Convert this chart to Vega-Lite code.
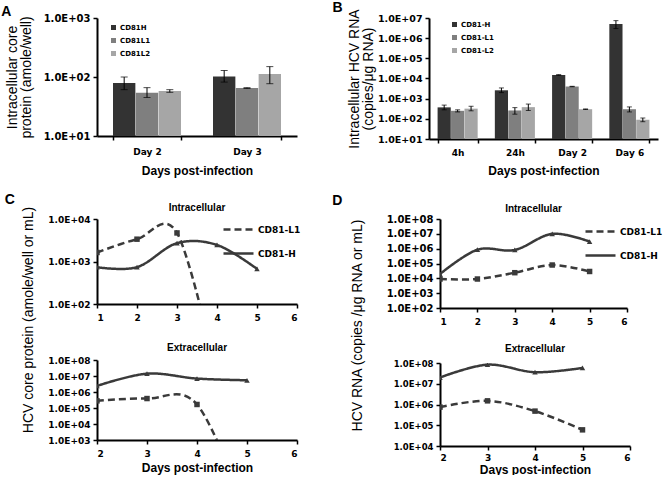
{
"$schema":"https://vega.github.io/schema/vega-lite/v6.json",
"background":"white",
"padding":{"left":1,"top":0,"right":0,"bottom":0},
"config":{
 "view":{"stroke":null},
 "font":"Liberation Sans",
 "axis":{"domainColor":"#000","domainWidth":2,"tickColor":"#000","tickWidth":1.5,"tickSize":4,"labelFont":"DejaVu Sans","labelFontWeight":"bold","labelColor":"#000","labelFontSize":9,"titleFont":"Liberation Sans","titleColor":"#000","grid":false,"labelPadding":3},
 "title":{"font":"Liberation Sans","fontWeight":"bold","color":"#000"},
 "legend":{"labelFont":"DejaVu Sans","labelFontWeight":"bold","labelColor":"#000"}
},
"datasets":{
 "barsA":[
  {"day":"Day 2","series":"CD81H","value":79,"lo":61,"hi":100},
  {"day":"Day 2","series":"CD81L1","value":54,"lo":45,"hi":66},
  {"day":"Day 2","series":"CD81L2","value":58,"lo":55,"hi":61},
  {"day":"Day 3","series":"CD81H","value":102,"lo":82,"hi":129},
  {"day":"Day 3","series":"CD81L1","value":65,"lo":64,"hi":66},
  {"day":"Day 3","series":"CD81L2","value":112,"lo":77,"hi":150}
 ],
 "barsB":[
  {"day":"4h","series":"CD81-H","value":370,"lo":280,"hi":480},
  {"day":"4h","series":"CD81-L1","value":250,"lo":220,"hi":280},
  {"day":"4h","series":"CD81-L2","value":320,"lo":250,"hi":420},
  {"day":"24h","series":"CD81-H","value":2600,"lo":2000,"hi":3400},
  {"day":"24h","series":"CD81-L1","value":260,"lo":170,"hi":360},
  {"day":"24h","series":"CD81-L2","value":380,"lo":260,"hi":540},
  {"day":"Day 2","series":"CD81-H","value":15000,"lo":14500,"hi":15500},
  {"day":"Day 2","series":"CD81-L1","value":4000,"lo":3900,"hi":4100},
  {"day":"Day 2","series":"CD81-L2","value":300,"lo":290,"hi":310},
  {"day":"Day 6","series":"CD81-H","value":5000000,"lo":3000000,"hi":7400000},
  {"day":"Day 6","series":"CD81-L1","value":300,"lo":220,"hi":390},
  {"day":"Day 6","series":"CD81-L2","value":90,"lo":72,"hi":110}
 ],
 "cTop":[
  {"day":1,"series":"CD81-L1","value":1630},
  {"day":2,"series":"CD81-L1","value":3350},
  {"day":3,"series":"CD81-L1","value":4700},
  {"day":4,"series":"CD81-L1","value":2},
  {"day":1,"series":"CD81-H","value":735},
  {"day":2,"series":"CD81-H","value":735},
  {"day":3,"series":"CD81-H","value":2700},
  {"day":4,"series":"CD81-H","value":2450},
  {"day":5,"series":"CD81-H","value":670}
 ],
 "cBot":[
  {"day":2,"series":"CD81-L1","value":280000},
  {"day":3,"series":"CD81-L1","value":390000},
  {"day":4,"series":"CD81-L1","value":166000},
  {"day":5,"series":"CD81-L1","value":0.025},
  {"day":2,"series":"CD81-H","value":2400000},
  {"day":3,"series":"CD81-H","value":14000000},
  {"day":4,"series":"CD81-H","value":6900000},
  {"day":5,"series":"CD81-H","value":5400000}
 ],
 "dTop":[
  {"day":1,"series":"CD81-L1","value":9000},
  {"day":2,"series":"CD81-L1","value":9000},
  {"day":3,"series":"CD81-L1","value":24000},
  {"day":4,"series":"CD81-L1","value":79000},
  {"day":5,"series":"CD81-L1","value":29000},
  {"day":1,"series":"CD81-H","value":19500},
  {"day":2,"series":"CD81-H","value":850000},
  {"day":3,"series":"CD81-H","value":820000},
  {"day":4,"series":"CD81-H","value":10000000},
  {"day":5,"series":"CD81-H","value":3000000}
 ],
 "dBot":[
  {"day":2,"series":"CD81-L1","value":750000},
  {"day":3,"series":"CD81-L1","value":1500000},
  {"day":4,"series":"CD81-L1","value":480000},
  {"day":5,"series":"CD81-L1","value":60000},
  {"day":2,"series":"CD81-H","value":20000000},
  {"day":3,"series":"CD81-H","value":83000000},
  {"day":4,"series":"CD81-H","value":36000000},
  {"day":5,"series":"CD81-H","value":58000000}
 ]
},
"spacing":17,
"resolve":{"scale":{"color":"independent","strokeDash":"independent","shape":"independent","xOffset":"independent"},"legend":{"color":"independent","strokeDash":"independent","shape":"independent"}},
"vconcat":[
 {"spacing":35,
  "resolve":{"scale":{"color":"independent","strokeDash":"independent","shape":"independent","xOffset":"independent"},"legend":{"color":"independent","strokeDash":"independent","shape":"independent"}},
  "hconcat":[
  {
   "title":{"text":"A","anchor":"start","frame":"bounds","fontSize":14,"offset":-6,"dx":-4},
   "width":200,"height":118,
   "data":{"name":"barsA"},
   "encoding":{
    "x":{"field":"day","type":"nominal","sort":["Day 2","Day 3"],"scale":{"paddingInner":0.32,"paddingOuter":0.16},"axis":{"title":"Days post-infection","labelAngle":0,"tickBand":"extent","labelFontSize":9,"labelPadding":7,"titleFontSize":12,"titleFontWeight":"bold","titlePadding":9}},
    "xOffset":{"field":"series","type":"nominal","sort":["CD81H","CD81L1","CD81L2"],"scale":{"paddingInner":0.02,"paddingOuter":0}}
   },
   "layer":[
    {"mark":{"type":"bar"},"encoding":{
      "y":{"field":"value","type":"quantitative","scale":{"type":"log","domain":[10,1000]},"axis":{"values":[10,100,1000],"labelExpr":"'1.0E+' + (round(log(datum.value)/LN10) < 10 ? '0' : '') + round(log(datum.value)/LN10)","labelFontSize":10,"title":["Intracellular core","protein (amole/well)"],"titleFontSize":14,"titleFontWeight":"normal","titlePadding":10,"titleLineHeight":14}},
      "y2":{"datum":10},
      "color":{"field":"series","type":"nominal","scale":{"domain":["CD81H","CD81L1","CD81L2"],"range":["#333333","#7f7f7f","#a6a6a6"]},"legend":{"orient":"none","legendX":13,"legendY":6,"title":null,"symbolType":"square","symbolSize":25,"symbolStrokeWidth":0,"labelFontSize":7,"labelOffset":3,"rowPadding":5,"padding":0}}}},
    {"mark":{"type":"rule","color":"#000","strokeWidth":1},"encoding":{"y":{"field":"lo","type":"quantitative","title":["Intracellular core","protein (amole/well)"]},"y2":{"field":"hi"}}},
    {"mark":{"type":"tick","color":"#000","thickness":1,"size":7},"encoding":{"y":{"field":"lo","type":"quantitative","title":["Intracellular core","protein (amole/well)"]}}},
    {"mark":{"type":"tick","color":"#000","thickness":1,"size":7},"encoding":{"y":{"field":"hi","type":"quantitative","title":["Intracellular core","protein (amole/well)"]}}}
   ]
  },
  {
   "title":{"text":"B","anchor":"start","frame":"bounds","fontSize":14,"offset":-6,"dx":-15},
   "width":229,"height":121,
   "data":{"name":"barsB"},
   "encoding":{
    "x":{"field":"day","type":"nominal","sort":["4h","24h","Day 2","Day 6"],"scale":{"paddingInner":0.3,"paddingOuter":0.15},"axis":{"title":"Days post-infection","labelAngle":0,"tickBand":"extent","labelFontSize":9,"labelPadding":5,"titleFontSize":12,"titleFontWeight":"bold","titlePadding":8}},
    "xOffset":{"field":"series","type":"nominal","sort":["CD81-H","CD81-L1","CD81-L2"],"scale":{"paddingInner":0.02,"paddingOuter":0}}
   },
   "layer":[
    {"mark":{"type":"bar"},"encoding":{
      "y":{"field":"value","type":"quantitative","scale":{"type":"log","domain":[10,10000000]},"axis":{"values":[10,100,1000,10000,100000,1000000,10000000],"labelExpr":"'1.0E+' + (round(log(datum.value)/LN10) < 10 ? '0' : '') + round(log(datum.value)/LN10)","labelFontSize":9.5,"title":["Intracellular HCV RNA","(copies/μg RNA)"],"titleFontSize":14,"titleFontWeight":"normal","titlePadding":2,"titleLineHeight":14}},
      "y2":{"datum":10},
      "color":{"field":"series","type":"nominal","scale":{"domain":["CD81-H","CD81-L1","CD81-L2"],"range":["#333333","#7f7f7f","#a6a6a6"]},"legend":{"orient":"none","legendX":22,"legendY":3,"title":null,"symbolType":"square","symbolSize":25,"symbolStrokeWidth":0,"labelFontSize":7,"labelOffset":3,"rowPadding":5,"padding":0}}}},
    {"mark":{"type":"rule","color":"#000","strokeWidth":1},"encoding":{"y":{"field":"lo","type":"quantitative","title":["Intracellular HCV RNA","(copies/μg RNA)"]},"y2":{"field":"hi"}}},
    {"mark":{"type":"tick","color":"#000","thickness":1,"size":5},"encoding":{"y":{"field":"lo","type":"quantitative","title":["Intracellular HCV RNA","(copies/μg RNA)"]}}},
    {"mark":{"type":"tick","color":"#000","thickness":1,"size":5},"encoding":{"y":{"field":"hi","type":"quantitative","title":["Intracellular HCV RNA","(copies/μg RNA)"]}}}
   ]
  }
 ]},
 {"spacing":31,
  "resolve":{"scale":{"color":"independent","strokeDash":"independent","shape":"independent"},"legend":{"color":"independent","strokeDash":"independent","shape":"independent"}},
  "hconcat":[
  {
   "title":{"text":"C","anchor":"start","frame":"bounds","fontSize":14,"offset":-4,"dx":-17},
   "resolve":{"scale":{"color":"independent","strokeDash":"independent","shape":"independent"},"legend":{"color":"independent","strokeDash":"independent","shape":"independent"}},
   "vconcat":[{
    "title":{"text":"HCV core protein (amole/well or mL)","orient":"left","anchor":"middle","fontSize":14,"fontWeight":"normal","offset":12,"dx":18},
    "spacing":21,
    "resolve":{"scale":{"color":"independent","strokeDash":"independent","shape":"independent"},"legend":{"color":"independent","strokeDash":"independent","shape":"independent"}},
    "vconcat":[
     {
      "title":{"text":"Intracellular","fontSize":10,"offset":0},
      "width":200,"height":85,
      "data":{"name":"cTop"},
      "encoding":{
       "x":{"field":"day","type":"quantitative","scale":{"domain":[1,6],"nice":false},"axis":{"values":[1,2,3,4,5,6],"format":"d","title":null,"labelFontSize":9,"labelPadding":5}},
       "y":{"field":"value","type":"quantitative","scale":{"type":"log","domain":[100,10000]},"axis":{"values":[100,1000,10000],"labelExpr":"'1.0E+' + (round(log(datum.value)/LN10) < 10 ? '0' : '') + round(log(datum.value)/LN10)","title":null,"labelFontSize":9}}
      },
      "layer":[
       {"mark":{"type":"line","interpolate":"cardinal","clip":true,"strokeWidth":2.5,"color":"#3a3a3a"},
        "encoding":{"strokeDash":{"field":"series","type":"nominal","scale":{"domain":["CD81-L1","CD81-H"],"range":[[7,4],[1,0]]},
         "legend":{"orient":"none","legendX":125,"legendY":-6,"title":null,"symbolType":"stroke","symbolSize":900,"symbolStrokeWidth":2.5,"symbolStrokeColor":"#3a3a3a","labelOffset":3,"labelFontSize":9,"rowPadding":2,"padding":0}}}},
       {"transform":[{"filter":"datum.series === 'CD81-L1'"}],"mark":{"type":"point","shape":"square","filled":true,"clip":true,"color":"#3a3a3a","size":30,"opacity":1},"encoding":{}},
       {"transform":[{"filter":"datum.series === 'CD81-H'"}],"mark":{"type":"point","shape":"triangle-up","filled":true,"clip":true,"color":"#3a3a3a","size":30,"opacity":1},"encoding":{}}
      ]
     },
     {
      "title":{"text":"Extracellular","fontSize":10,"offset":3},
      "width":200,"height":80,
      "data":{"name":"cBot"},
      "encoding":{
       "x":{"field":"day","type":"quantitative","scale":{"domain":[2,6],"nice":false},"axis":{"values":[2,3,4,5,6],"format":"d","title":"Days post-infection","titleFontSize":12,"titleFontWeight":"bold","titlePadding":4,"labelFontSize":9,"labelPadding":5}},
       "y":{"field":"value","type":"quantitative","scale":{"type":"log","domain":[1000,100000000]},"axis":{"values":[1000,10000,100000,1000000,10000000,100000000],"labelExpr":"'1.0E+' + (round(log(datum.value)/LN10) < 10 ? '0' : '') + round(log(datum.value)/LN10)","title":null,"labelFontSize":9}}
      },
      "layer":[
       {"mark":{"type":"line","interpolate":"cardinal","clip":true,"strokeWidth":2.5,"color":"#3a3a3a"},
        "encoding":{"strokeDash":{"field":"series","type":"nominal","scale":{"domain":["CD81-L1","CD81-H"],"range":[[7,4],[1,0]]},"legend":null}}},
       {"transform":[{"filter":"datum.series === 'CD81-L1'"}],"mark":{"type":"point","shape":"square","filled":true,"clip":true,"color":"#3a3a3a","size":30,"opacity":1},"encoding":{}},
       {"transform":[{"filter":"datum.series === 'CD81-H'"}],"mark":{"type":"point","shape":"triangle-up","filled":true,"clip":true,"color":"#3a3a3a","size":30,"opacity":1},"encoding":{}}
      ]
     }
    ]
   }]
  },
  {
   "title":{"text":"D","anchor":"start","frame":"bounds","fontSize":14,"offset":-4,"dx":-19},
   "resolve":{"scale":{"color":"independent","strokeDash":"independent","shape":"independent"},"legend":{"color":"independent","strokeDash":"independent","shape":"independent"}},
   "vconcat":[{
    "title":{"text":"HCV RNA (copies /μg RNA or mL)","orient":"left","anchor":"middle","fontSize":14,"fontWeight":"normal","offset":21,"dx":14},
    "spacing":18,
    "resolve":{"scale":{"color":"independent","strokeDash":"independent","shape":"independent"},"legend":{"color":"independent","strokeDash":"independent","shape":"independent"}},
    "vconcat":[
     {
      "title":{"text":"Intracellular","fontSize":10,"offset":0},
      "width":187,"height":89,
      "data":{"name":"dTop"},
      "encoding":{
       "x":{"field":"day","type":"quantitative","scale":{"domain":[1,6],"nice":false},"axis":{"values":[1,2,3,4,5,6],"format":"d","title":null,"labelFontSize":9,"labelPadding":5}},
       "y":{"field":"value","type":"quantitative","scale":{"type":"log","domain":[100,100000000]},"axis":{"values":[100,1000,10000,100000,1000000,10000000,100000000],"labelExpr":"'1.0E+' + (round(log(datum.value)/LN10) < 10 ? '0' : '') + round(log(datum.value)/LN10)","title":null,"labelFontSize":10}}
      },
      "layer":[
       {"mark":{"type":"line","interpolate":"cardinal","clip":true,"strokeWidth":2.5,"color":"#3a3a3a"},
        "encoding":{"strokeDash":{"field":"series","type":"nominal","scale":{"domain":["CD81-L1","CD81-H"],"range":[[7,4],[1,0]]},
         "legend":{"orient":"none","legendX":144,"legendY":-4,"title":null,"symbolType":"stroke","symbolSize":900,"symbolStrokeWidth":2.5,"symbolStrokeColor":"#3a3a3a","labelOffset":3,"labelFontSize":9,"rowPadding":2,"padding":0}}}},
       {"transform":[{"filter":"datum.series === 'CD81-L1'"}],"mark":{"type":"point","shape":"square","filled":true,"clip":true,"color":"#3a3a3a","size":30,"opacity":1},"encoding":{}},
       {"transform":[{"filter":"datum.series === 'CD81-H'"}],"mark":{"type":"point","shape":"triangle-up","filled":true,"clip":true,"color":"#3a3a3a","size":30,"opacity":1},"encoding":{}}
      ]
     },
     {
      "title":{"text":"Extracellular","fontSize":10,"offset":5},
      "width":190,"height":83,
      "data":{"name":"dBot"},
      "encoding":{
       "x":{"field":"day","type":"quantitative","scale":{"domain":[2,6],"nice":false},"axis":{"values":[2,3,4,5,6],"format":"d","title":"Days post-infection","titleFontSize":12,"titleFontWeight":"bold","titlePadding":2,"labelFontSize":9,"labelPadding":3}},
       "y":{"field":"value","type":"quantitative","scale":{"type":"log","domain":[10000,100000000]},"axis":{"values":[10000,100000,1000000,10000000,100000000],"labelExpr":"'1.0E+' + (round(log(datum.value)/LN10) < 10 ? '0' : '') + round(log(datum.value)/LN10)","title":null,"labelFontSize":8.5}}
      },
      "layer":[
       {"mark":{"type":"line","interpolate":"cardinal","clip":true,"strokeWidth":2.5,"color":"#3a3a3a"},
        "encoding":{"strokeDash":{"field":"series","type":"nominal","scale":{"domain":["CD81-L1","CD81-H"],"range":[[7,4],[1,0]]},"legend":null}}},
       {"transform":[{"filter":"datum.series === 'CD81-L1'"}],"mark":{"type":"point","shape":"square","filled":true,"clip":true,"color":"#3a3a3a","size":30,"opacity":1},"encoding":{}},
       {"transform":[{"filter":"datum.series === 'CD81-H'"}],"mark":{"type":"point","shape":"triangle-up","filled":true,"clip":true,"color":"#3a3a3a","size":30,"opacity":1},"encoding":{}}
      ]
     }
    ]
   }]
  }
 ]}
]
}
